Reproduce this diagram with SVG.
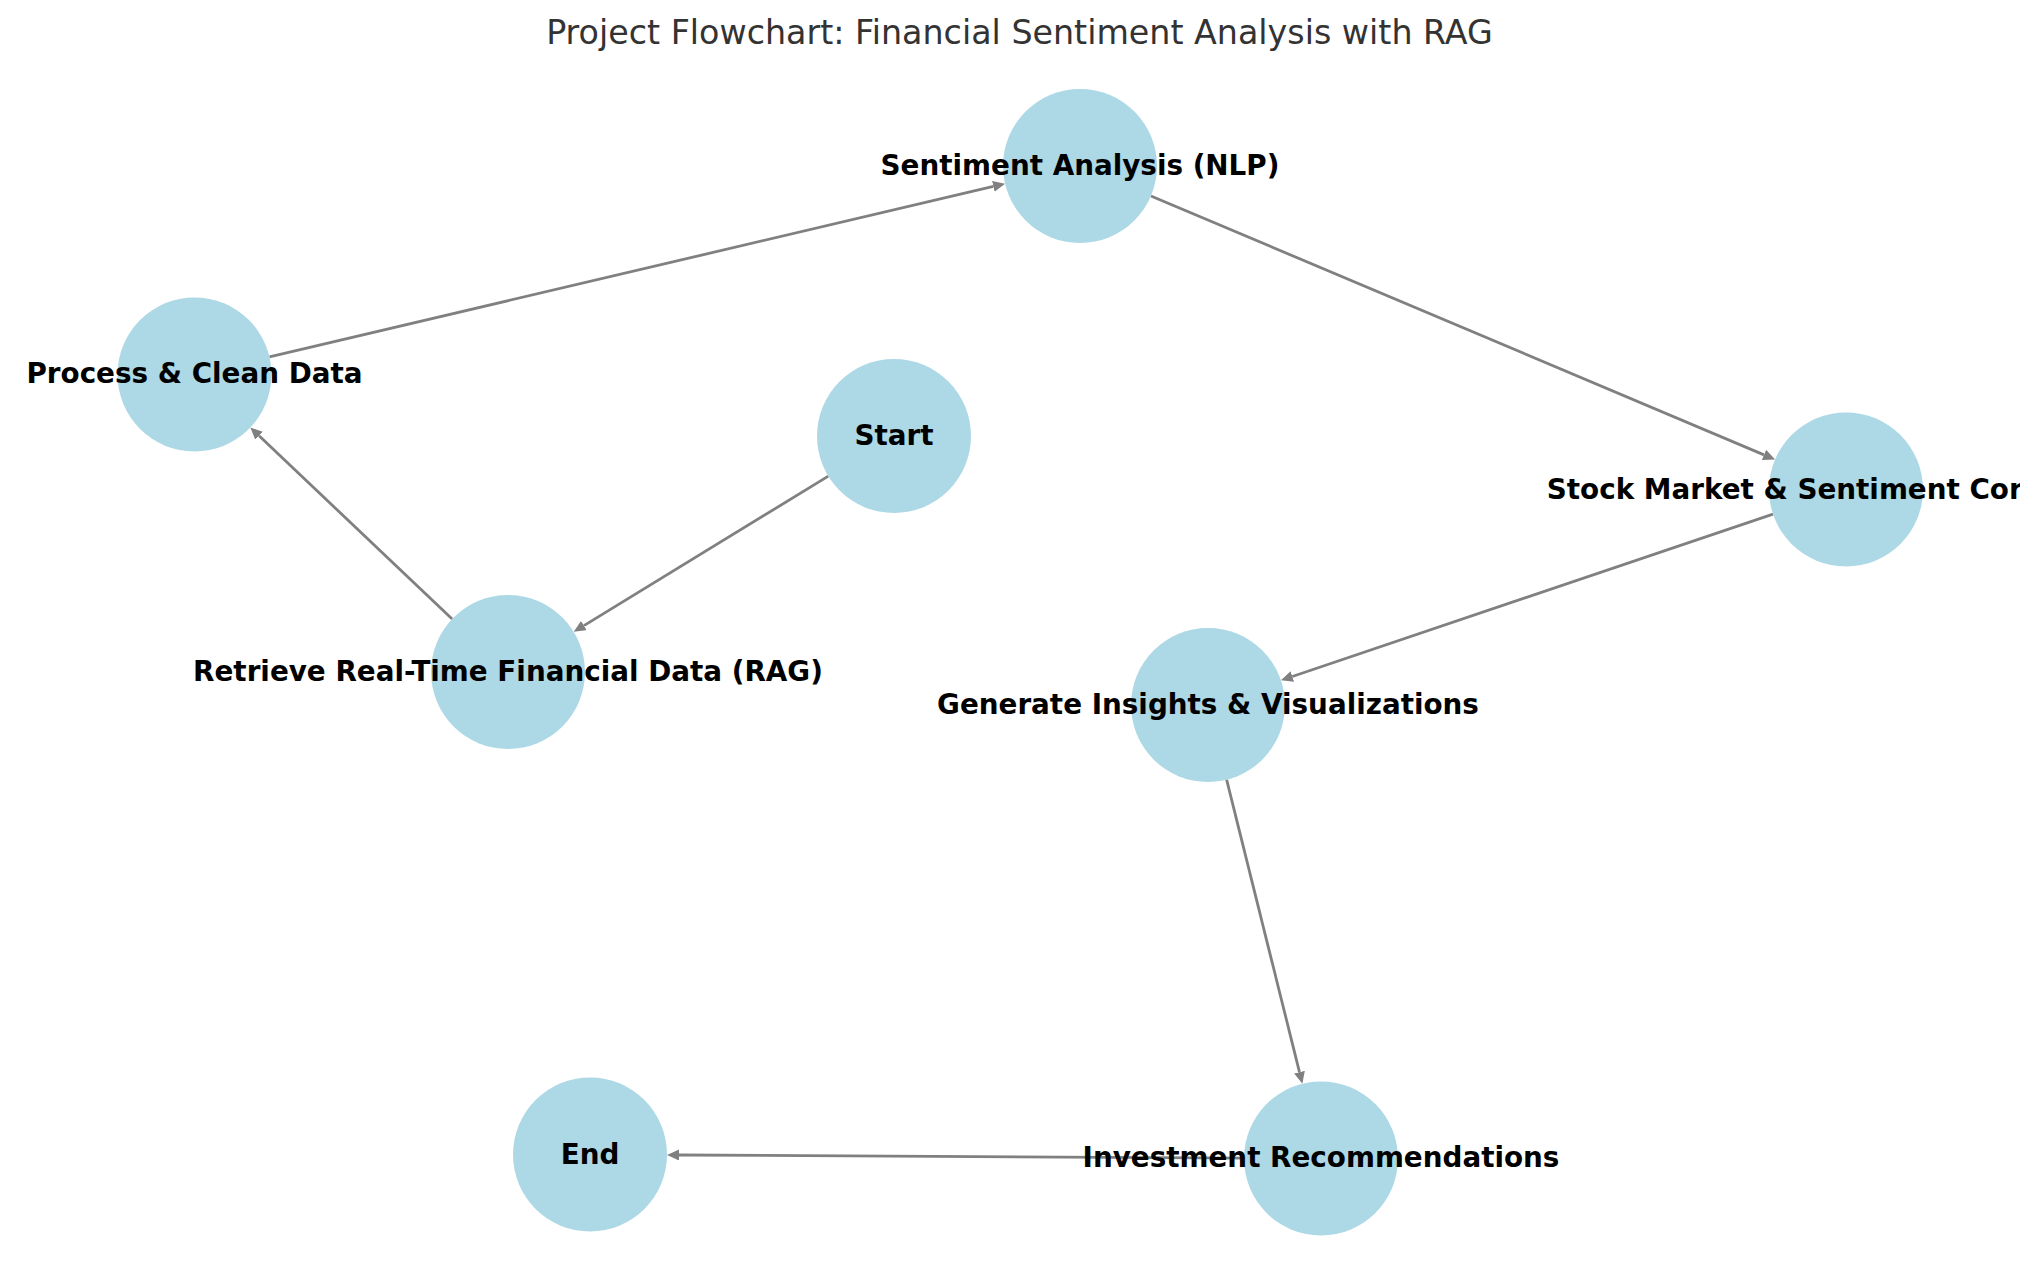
<svg xmlns="http://www.w3.org/2000/svg" width="2039" height="1282" viewBox="0 0 2039 1282">
  <style>
    .node { fill: #ADD8E6; }
    .label { font-family: "DejaVu Sans", sans-serif; font-weight: bold; font-size: 27.8px; fill: #000000; text-anchor: middle; }
    .title { font-family: "DejaVu Sans", sans-serif; font-size: 33.3px; fill: #333333; text-anchor: middle; }
    .edge { stroke: #808080; stroke-width: 2.8; fill: none; }
  </style>
  <defs>
    <marker id="arrow" viewBox="0 0 12 11" refX="0" refY="5.5" markerWidth="12" markerHeight="11" markerUnits="userSpaceOnUse" orient="auto">
      <path d="M0,0 L12,5.5 L0,11 Z" fill="#808080"/>
    </marker>
    <clipPath id="figclip">
      <rect x="0" y="0" width="2020" height="1282"/>
    </clipPath>
  </defs>
  <rect x="0" y="0" width="2039" height="1282" fill="#ffffff"/>
  <text class="title" x="1019.5" y="44">Project Flowchart: Financial Sentiment Analysis with RAG</text>
  <g id="connectors">
    <line class="edge" x1="828.30" y1="476.16" x2="583.94" y2="625.58" marker-end="url(#arrow)"/>
    <line class="edge" x1="452.14" y1="618.99" x2="259.06" y2="435.77" marker-end="url(#arrow)"/>
    <line class="edge" x1="269.45" y1="356.85" x2="993.37" y2="186.40" marker-end="url(#arrow)"/>
    <line class="edge" x1="1150.93" y1="195.96" x2="1764.02" y2="454.87" marker-end="url(#arrow)"/>
    <line class="edge" x1="1773.05" y1="514.14" x2="1292.32" y2="676.52" marker-end="url(#arrow)"/>
    <line class="edge" x1="1226.62" y1="779.71" x2="1299.48" y2="1072.15" marker-end="url(#arrow)"/>
    <line class="edge" x1="1244" y1="1158.08" x2="679" y2="1154.99" marker-end="url(#arrow)"/>
  </g>
  <g id="node-start">
    <circle class="node" cx="894" cy="436" r="77"/>
    <text class="label" x="894" y="445">Start</text>
  </g>
  <g id="node-retrieve">
    <circle class="node" cx="508" cy="672" r="77"/>
    <text class="label" x="508" y="681">Retrieve Real-Time Financial Data (RAG)</text>
  </g>
  <g id="node-process">
    <circle class="node" cx="194.5" cy="374.5" r="77"/>
    <text class="label" x="194.5" y="383">Process &amp; Clean Data</text>
  </g>
  <g id="node-sentiment">
    <circle class="node" cx="1080" cy="166" r="77"/>
    <text class="label" x="1080" y="175">Sentiment Analysis (NLP)</text>
  </g>
  <g id="node-stock">
    <circle class="node" cx="1846" cy="489.5" r="77"/>
    <text class="label" x="1846" y="498.5" clip-path="url(#figclip)">Stock Market &amp; Sentiment Correlation</text>
  </g>
  <g id="node-generate">
    <circle class="node" cx="1208" cy="705" r="77"/>
    <text class="label" x="1208" y="714">Generate Insights &amp; Visualizations</text>
  </g>
  <g id="node-investment">
    <circle class="node" cx="1321" cy="1158.5" r="77"/>
    <text class="label" x="1321" y="1167">Investment Recommendations</text>
  </g>
  <g id="node-end">
    <circle class="node" cx="590" cy="1154.5" r="77"/>
    <text class="label" x="590" y="1163.5">End</text>
  </g>
</svg>
